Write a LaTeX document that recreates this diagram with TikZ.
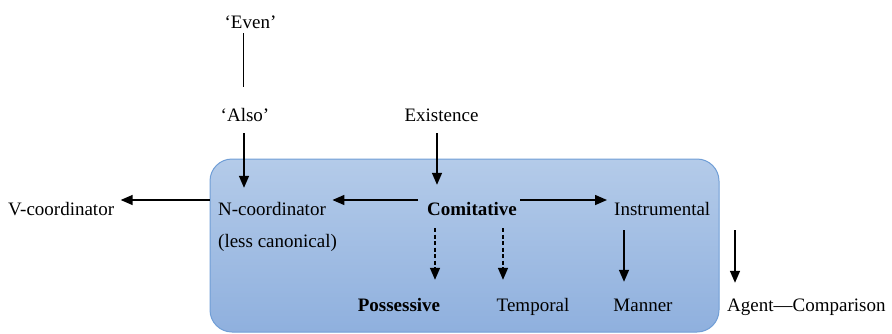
\documentclass[tikz,border=0pt]{standalone}
\usepackage{fontspec}
\setmainfont{Liberation Serif}
\usetikzlibrary{arrows.meta}
\definecolor{boxtop}{RGB}{180,203,233}
\definecolor{boxbot}{RGB}{143,176,222}
\definecolor{boxline}{RGB}{112,158,214}
\begin{document}
\begin{tikzpicture}[x=1pt,y=-1pt,
  lbl/.style={inner sep=0pt, text height=13pt, text depth=4pt, anchor=base, font=\fontsize{19}{23}\selectfont},
  lblw/.style={lbl, anchor=base west},
  arr/.style={line width=1.5pt, -{Triangle[length=12pt,width=10pt]}},
  darr/.style={arr, dash pattern=on 4pt off 2.5pt},
  thinline/.style={line width=0.8pt}]
\useasboundingbox (0,0) rectangle (892,333);
\node[draw=boxline, line width=1pt, top color=boxtop, bottom color=boxbot,
      rounded corners=22pt, minimum width=509pt, minimum height=173pt, inner sep=0pt]
      (box) at (464.5,245.5) {};
% labels
\node[lbl] (even) at (250.5,28) {‘Even’};
\node[lbl] (also) at (245,121.7) {‘Also’};
\node[lbl] (exist) at (441.5,121.7) {Existence};
\node[lblw] (vcoord) at (8,215.5) {V-coordinator};
\node[lblw] (ncoord) at (218,215.5) {N-coordinator};
\node[lblw] (lesscan) at (218,247.5) {(less canonical)};
\node[lblw, font=\fontsize{19}{23}\selectfont\bfseries] (comit) at (427,215.5) {Comitative};
\node[lblw] (instr) at (614,215.5) {Instrumental};
\node[lbl, font=\fontsize{19}{23}\selectfont\bfseries] (poss) at (399,311) {Possessive};
\node[lbl] (temp) at (533,311) {Temporal};
\node[lbl] (manner) at (643,311) {Manner};
\node[lblw] (agent) at (727,311) {Agent—Comparison};
% connectors
\coordinate (evenline) at (243,33);
\draw[thinline, shorten >=21.5pt] (evenline) -- (evenline |- also.north);
\coordinate (alsoarr) at (244,133);
\draw[arr, shorten >=14.5pt] (alsoarr) -- (alsoarr |- ncoord.north);
\coordinate (existarr) at (437,133);
\draw[arr, shorten >=17.5pt] (existarr) -- (existarr |- comit.north);
\draw[arr, shorten <=9pt, shorten >=6.4pt] ([yshift=11pt]comit.west) -- ([yshift=11pt]ncoord.east);
\draw[arr, shorten <=3pt, shorten >=7pt] ([yshift=11pt]comit.east) -- ([yshift=11pt]instr.west);
\draw[arr, shorten >=6.4pt] ([yshift=45.5pt]box.west) -- ([yshift=11pt]vcoord.east);
\coordinate (possarr) at (435,228);
\draw[darr, shorten >=18pt] (possarr) -- (possarr |- poss.north);
\coordinate (temparr) at (503,228);
\draw[darr, shorten >=18pt] (temparr) -- (temparr |- temp.north);
\coordinate (mannerarr) at (624,230);
\draw[arr, shorten >=16pt] (mannerarr) -- (mannerarr |- manner.north);
\coordinate (agentarr) at (735,230);
\draw[arr, shorten >=15pt] (agentarr) -- (agentarr |- agent.north);
\end{tikzpicture}
\end{document}
